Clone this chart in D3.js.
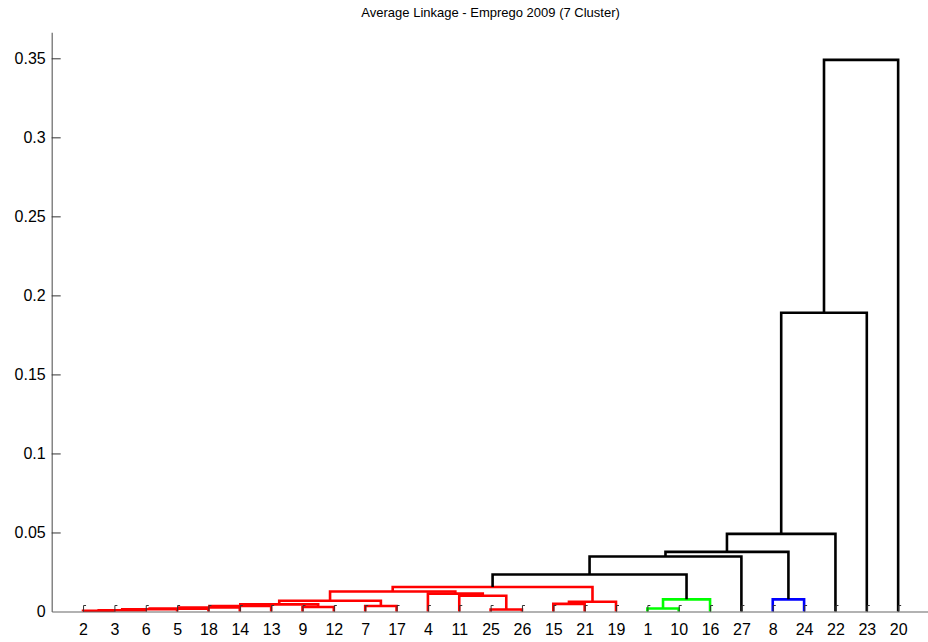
<!DOCTYPE html>
<html>
<head>
<meta charset="utf-8">
<script src="https://cdn.jsdelivr.net/npm/d3@7"></script>
<style>
  body { margin: 0; background: #fff; }
  svg { display: block; font-family: 'Liberation Sans', Arial, sans-serif; }
  .link { fill: none; stroke-width: 2.6px; }
</style>
</head>
<body>
<svg id="chart"></svg>
<script>
const w = 928, h = 642;
const margin = { left: 51.7, right: -1.5, top: 32.3, bottom: 30.5 };

const chartTitle = 'Average Linkage - Emprego 2009 (7 Cluster)';

// leaf labels in the order they appear along the x axis
const leafOrder = [2, 3, 6, 5, 18, 14, 13, 9, 12, 7, 17, 4, 11, 25, 26, 15, 21, 19, 1, 10, 16, 27, 8, 24, 22, 23, 20];

// linkage rows, MATLAB style: node 1..27 are leaves, row i makes node 28 + i
const linkLeft   = [2, 28, 29, 30, 25, 1, 31, 9, 34, 7, 36, 15, 39, 38, 33, 8, 11, 4, 41, 46, 47, 48, 49, 50, 51, 52];
const linkRight  = [3, 6, 5, 18, 26, 10, 14, 12, 13, 17, 35, 21, 19, 37, 16, 24, 32, 44, 45, 40, 42, 27, 43, 22, 23, 20];
const linkHeight = [0.0005, 0.0008, 0.0014, 0.0018, 0.0013, 0.0019, 0.0025, 0.0028, 0.0035, 0.0035, 0.0045, 0.0048,
                    0.0062, 0.0068, 0.0077, 0.0077, 0.0100, 0.0113, 0.0127, 0.0155, 0.0234, 0.0348, 0.0377, 0.0491,
                    0.189, 0.349];
// cluster of each link (0 = above the cut)
const linkCluster = [1, 1, 1, 1, 1, 2, 1, 1, 1, 1, 1, 1, 1, 1, 2, 3, 1, 1, 1, 1, 0, 0, 0, 0, 0, 0];

const yTicks = [0, 0.05, 0.1, 0.15, 0.2, 0.25, 0.3, 0.35];

const nLeaves = leafOrder.length;
const maxHeight = d3.max(linkHeight);

const chart = d3.select('#chart')
    .attr('width', w)
    .attr('height', h);

const xScale = d3.scaleLinear()
    .domain([0, nLeaves + 1])
    .range([margin.left, w - margin.right]);

const yScale = d3.scaleLinear()
    .domain([0, maxHeight * 1.05])
    .range([h - margin.bottom, margin.top]);

const colorScale = d3.scaleOrdinal()
    .domain([0, 1, 2, 3])
    .range(['#000000', '#ff0000', '#00ff00', '#0000ff']);

// x position and height of every node
const nodeX = {}, nodeH = {};
leafOrder.forEach((leaf, i) => { nodeX[leaf] = i + 1; nodeH[leaf] = 0; });
linkLeft.forEach((l, i) => {
    const id = nLeaves + 1 + i;
    nodeX[id] = (nodeX[l] + nodeX[linkRight[i]]) / 2;
    nodeH[id] = linkHeight[i];
});

const links = linkLeft.map((l, i) => ({ a: l, b: linkRight[i], h: linkHeight[i], c: linkCluster[i] }));

chart.append('g')
    .selectAll('path')
    .data(links)
    .enter()
    .append('path')
    .attr('class', 'link')
    .attr('stroke', d => colorScale(d.c))
    .attr('d', d => `M${xScale(nodeX[d.a])},${yScale(nodeH[d.a])}V${yScale(d.h)}H${xScale(nodeX[d.b])}V${yScale(nodeH[d.b])}`);

// axes, ticks point inwards like matlab
const xAxis = chart.append('g')
    .attr('transform', `translate(0, ${h - margin.bottom})`)
    .call(d3.axisBottom(xScale)
        .tickValues(d3.range(1, nLeaves + 1))
        .tickFormat(d => leafOrder[d - 1])
        .tickSizeInner(-6)
        .tickSizeOuter(0)
        .tickPadding(12));

xAxis.selectAll('.tick')
    .append('line')
    .attr('x1', 0).attr('x2', 2.5)
    .attr('y1', -6).attr('y2', -6)
    .attr('stroke', '#333');

const yAxis = chart.append('g')
    .attr('transform', `translate(${margin.left}, 0)`)
    .call(d3.axisLeft(yScale)
        .tickValues(yTicks)
        .tickFormat(d3.format('~g'))
        .tickSizeInner(-9)
        .tickSizeOuter(0)
        .tickPadding(6));

[xAxis, yAxis].forEach(ax => {
    ax.attr('font-size', '16px').attr('font-family', null);
    ax.select('.domain').attr('stroke', '#666').attr('stroke-width', 1.2);
    ax.selectAll('.tick line').attr('stroke', '#333');
    ax.selectAll('.tick text').attr('fill', '#000');
});
yAxis.selectAll('.tick').filter(d => d === 0).select('line').remove();

chart.append('text')
    .attr('x', (xScale.range()[0] + xScale.range()[1]) / 2)
    .attr('y', 17)
    .attr('text-anchor', 'middle')
    .attr('font-size', '13px')
    .text(chartTitle);
</script>
</body>
</html>
